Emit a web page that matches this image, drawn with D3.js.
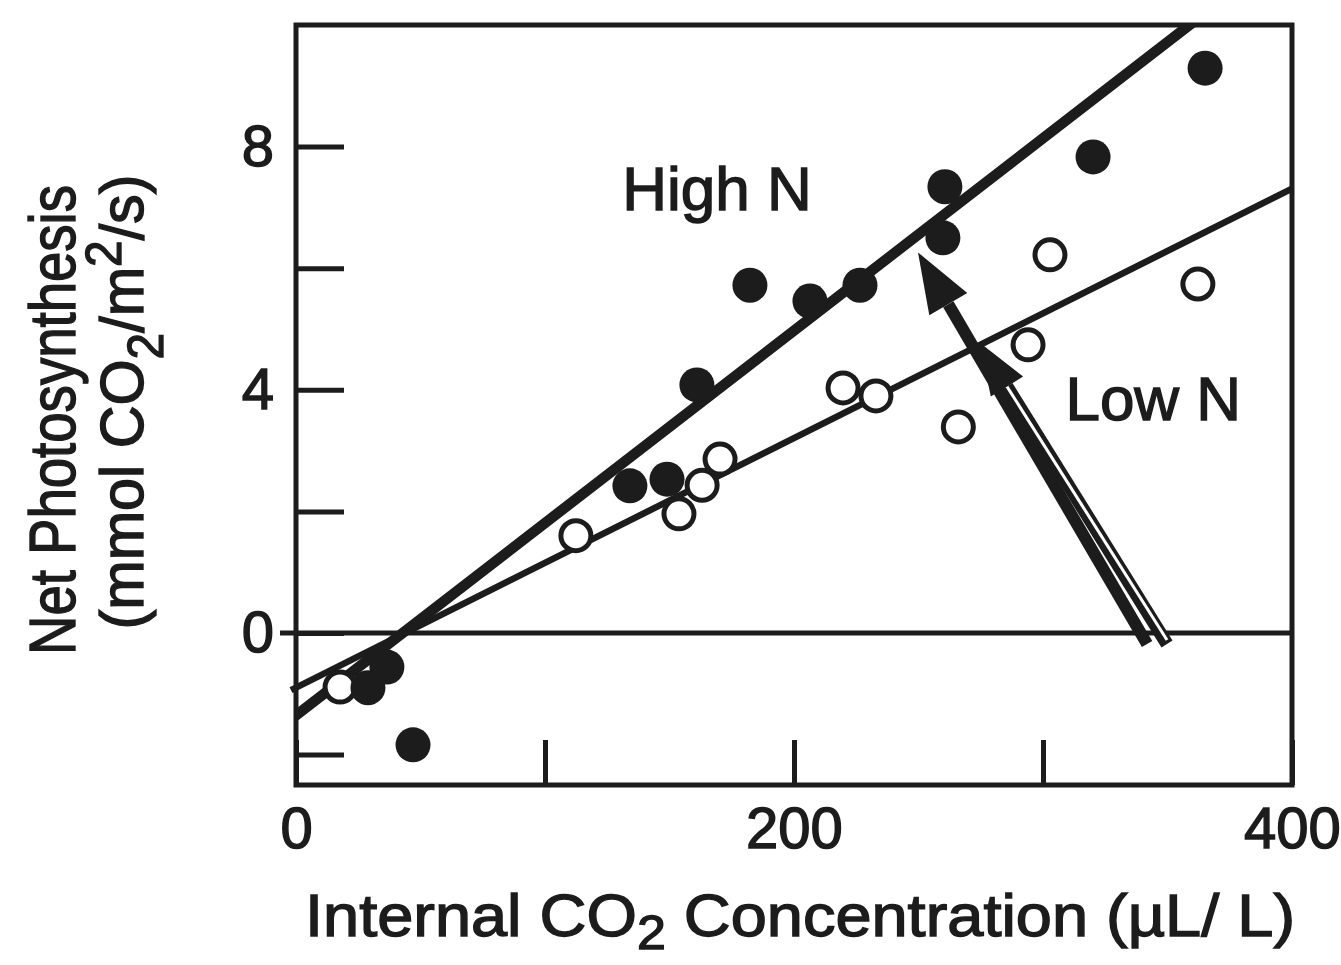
<!DOCTYPE html>
<html>
<head>
<meta charset="utf-8">
<script src="https://cdn.jsdelivr.net/npm/d3@7"></script>
<style>
  body { margin: 0; background: #fff; }
  svg text { font-family: "Liberation Sans", Arial, Helvetica, sans-serif; fill: #1c1c1c; stroke: #1c1c1c; stroke-width: 1.4px; }
</style>
</head>
<body>
<svg id="chart"></svg>
<script>
// values
const highN_x = [28.9, 36.5, 47.0, 134.1, 149.0, 161.0, 182.3, 206.4, 226.5, 259.8, 260.6, 320.1, 365.1];
const highN_y = [-0.90, -0.56, -1.84, 2.42, 2.53, 4.08, 5.72, 5.46, 5.72, 6.50, 7.34, 7.83, 9.29];
const lowN_x = [17.7, 112.4, 153.8, 163.1, 170.3, 219.7, 232.9, 266.0, 294.0, 302.8, 362.2];
const lowN_y = [-0.89, 1.60, 1.96, 2.43, 2.86, 4.03, 3.90, 3.39, 4.74, 6.22, 5.74];

// fitted lines (end points)
const highN_line = [[-2, -1.42], [362, 10.1]];
const lowN_line = [[-2, -0.94], [400, 7.31]];

// arrows: [tail, tip]
const arrowHigh = [[341.8, -0.18], [249.8, 6.26]];
const arrowLow = [[349.8, -0.18], [274.5, 4.78]];

const yTicks = [8, 6, 4, 2, 0, -2];
const yLabels = [8, 4, 0];
const xTicks = [0, 100, 200, 300, 400];
const xLabels = [0, 200, 400];

const width = 1341, height = 965;
const ink = "#1c1c1c";

const svg = d3.select("#chart").attr("width", width).attr("height", height);

const x = d3.scaleLinear().domain([0, 400]).range([296, 1292]);
const y = d3.scaleLinear().domain([-2.5, 10]).range([785, 25]);

svg.append("defs").append("clipPath").attr("id", "plot")
  .append("rect")
  .attr("x", x(0)).attr("y", y(10))
  .attr("width", x(400) - x(0)).attr("height", y(-2.5) - y(10));

// axes, ticks pointing inward
const yAxis = svg.append("g")
  .attr("transform", `translate(${x(0)},0)`)
  .call(d3.axisLeft(y).tickValues(yTicks).tickSize(-48).tickPadding(22)
    .tickFormat(d => yLabels.includes(d) ? d : ""));
const xAxis = svg.append("g")
  .attr("transform", `translate(0,${y(-2.5)})`)
  .call(d3.axisBottom(x).tickValues(xTicks).tickSize(-45).tickPadding(22)
    .tickFormat(d => xLabels.includes(d) ? d : ""));
[yAxis, xAxis].forEach(g => {
  g.select(".domain").remove();
  g.selectAll(".tick line").attr("stroke", ink).attr("stroke-width", 5);
  g.selectAll(".tick text").style("font-size", "58px").attr("fill", ink);
});

// frame
svg.append("rect")
  .attr("x", x(0)).attr("y", y(10))
  .attr("width", x(400) - x(0)).attr("height", y(-2.5) - y(10))
  .attr("fill", "none").attr("stroke", ink).attr("stroke-width", 5);

// zero line (runs a bit past the left axis)
svg.append("line")
  .attr("x1", x(0) - 16).attr("x2", x(400))
  .attr("y1", y(0)).attr("y2", y(0))
  .attr("stroke", ink).attr("stroke-width", 5);

const line = d3.line().x(d => x(d[0])).y(d => y(d[1]));

svg.append("path").datum(lowN_line)
  .attr("d", line).attr("stroke", ink).attr("stroke-width", 6.5).attr("fill", "none");
svg.append("path").datum(highN_line)
  .attr("clip-path", "url(#plot)")
  .attr("d", line).attr("stroke", ink).attr("stroke-width", 10.5).attr("fill", "none");

// arrows
function arrowHead(a, len, half) {
  const x0 = x(a[0][0]), y0 = y(a[0][1]), x1 = x(a[1][0]), y1 = y(a[1][1]);
  const L = Math.hypot(x1 - x0, y1 - y0);
  const ux = (x1 - x0) / L, uy = (y1 - y0) / L;
  const bx = x1 - ux * len, by = y1 - uy * len;
  return {
    base: [bx, by],
    pts: [[x1, y1], [bx - uy * half, by + ux * half], [bx + uy * half, by - ux * half]]
  };
}

const hLow = arrowHead(arrowLow, 52, 19);
svg.append("line")
  .attr("x1", x(arrowLow[0][0])).attr("y1", y(arrowLow[0][1]))
  .attr("x2", hLow.base[0]).attr("y2", hLow.base[1])
  .attr("stroke", ink).attr("stroke-width", 13);
svg.append("line")
  .attr("x1", x(arrowLow[0][0])).attr("y1", y(arrowLow[0][1]) - 4)
  .attr("x2", hLow.base[0]).attr("y2", hLow.base[1])
  .attr("stroke", "#fff").attr("stroke-width", 3);
svg.append("polygon").attr("points", hLow.pts.join(" ")).attr("fill", ink);

const hHigh = arrowHead(arrowHigh, 60, 22);
svg.append("line")
  .attr("x1", x(arrowHigh[0][0])).attr("y1", y(arrowHigh[0][1]))
  .attr("x2", hHigh.base[0]).attr("y2", hHigh.base[1])
  .attr("stroke", ink).attr("stroke-width", 12);
svg.append("polygon").attr("points", hHigh.pts.join(" ")).attr("fill", ink);

// points
svg.append("g").selectAll("circle")
  .data(d3.zip(lowN_x, lowN_y))
  .join("circle")
  .attr("cx", d => x(d[0])).attr("cy", d => y(d[1])).attr("r", 15)
  .attr("fill", "#fff").attr("stroke", ink).attr("stroke-width", 5);

svg.append("g").selectAll("circle")
  .data(d3.zip(highN_x, highN_y))
  .join("circle")
  .attr("cx", d => x(d[0])).attr("cy", d => y(d[1])).attr("r", 17.5)
  .attr("fill", ink);

// series labels
svg.append("text").attr("x", x(131)).attr("y", y(6.95))
  .style("font-size", "62px").text("High N");
svg.append("text").attr("x", x(309)).attr("y", y(3.5))
  .style("font-size", "62px").text("Low N");

// axis titles
const xt = svg.append("text").attr("x", 305).attr("y", 936)
  .attr("textLength", 990).attr("lengthAdjust", "spacingAndGlyphs")
  .style("font-size", "60px");
xt.append("tspan").text("Internal CO");
xt.append("tspan").attr("dy", 13).style("font-size", "48px").text("2");
xt.append("tspan").attr("dy", -13).text(" Concentration (\u00b5L/ L)");

svg.append("text")
  .attr("transform", "translate(75,420) rotate(-90)")
  .attr("text-anchor", "middle")
  .attr("textLength", 470).attr("lengthAdjust", "spacingAndGlyphs")
  .style("font-size", "64px").text("Net Photosynthesis");

const yt = svg.append("text")
  .attr("transform", "translate(143,402) rotate(-90)")
  .attr("text-anchor", "middle")
  .attr("textLength", 455).attr("lengthAdjust", "spacingAndGlyphs")
  .style("font-size", "62px");
yt.append("tspan").text("(mmol CO");
yt.append("tspan").attr("dy", 20).style("font-size", "50px").text("2");
yt.append("tspan").attr("dy", -20).text("/m");
yt.append("tspan").attr("dy", -22).style("font-size", "50px").text("2");
yt.append("tspan").attr("dy", 22).text("/s)");
</script>
</body>
</html>
